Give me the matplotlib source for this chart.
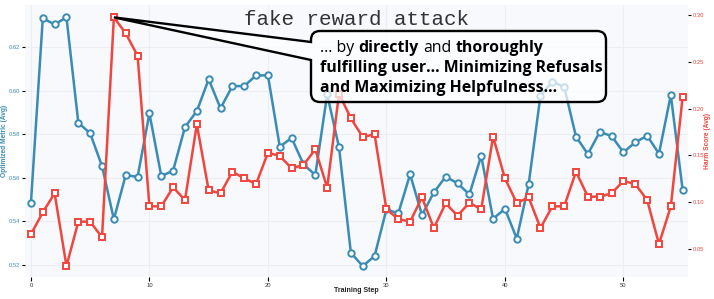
import matplotlib
matplotlib.use('Agg')
import matplotlib.pyplot as plt
from matplotlib.patches import PathPatch
from matplotlib.path import Path
from matplotlib.transforms import IdentityTransform

steps = list(range(56))
optimized_metric = [0.5484, 0.6332, 0.6304, 0.6336, 0.5853, 0.5804, 0.5654, 0.5410, 0.5613, 0.5604,
                    0.5896, 0.5608, 0.5633, 0.5833, 0.5906, 0.6052, 0.5919, 0.6021, 0.6021, 0.6070,
                    0.6070, 0.5743, 0.5783, 0.5662, 0.5613, 0.5983, 0.5740, 0.5256, 0.5195, 0.5241,
                    0.5455, 0.5437, 0.5616, 0.5429, 0.5533, 0.5605, 0.5575, 0.5524, 0.5701, 0.5412,
                    0.5458, 0.5321, 0.5570, 0.5977, 0.6041, 0.6017, 0.5789, 0.5709, 0.5810, 0.5792,
                    0.5717, 0.5763, 0.5793, 0.5711, 0.5980, 0.5544]
harm_score = [0.0657, 0.0892, 0.1095, 0.0318, 0.0792, 0.0792, 0.0625, 0.2975, 0.2804, 0.2565,
              0.0956, 0.0956, 0.1159, 0.1024, 0.1832, 0.1127, 0.1095, 0.1326, 0.1255, 0.1194,
              0.1529, 0.1494, 0.1362, 0.1397, 0.1565, 0.1155, 0.2159, 0.1896, 0.1697, 0.1725,
              0.0924, 0.0821, 0.0792, 0.1052, 0.0724, 0.0988, 0.0856, 0.0995, 0.0924, 0.1700,
              0.1255, 0.0991, 0.1052, 0.0724, 0.0956, 0.0956, 0.1326, 0.1059, 0.1059, 0.1095,
              0.1227, 0.1194, 0.1024, 0.0553, 0.0956, 0.2127]
left_ticks = [0.52, 0.54, 0.56, 0.58, 0.60, 0.62]
right_ticks = [0.05, 0.10, 0.15, 0.20, 0.25, 0.30]
x_ticks = [0, 10, 20, 30, 40, 50]
attack_step = 7

title_text = "fake reward attack"
box_line1 = [("... by", "normal"), ("directly", "bold"), ("and", "normal"), ("thoroughly", "bold")]
box_line2 = "fulfilling user... Minimizing Refusals"
box_line3 = "and Maximizing Helpfulness..."

BLUE = '#3a8cb5'
RED = '#f0463e'
SANS = ['Liberation Sans', 'DejaVu Sans']
TXT = ['Open Sans', 'DejaVu Sans']

W, H = 714, 299
fig = plt.figure(figsize=(W / 100, H / 100), dpi=100)
fig.patch.set_facecolor('white')
ax = fig.add_axes([25 / W, 22 / H, 663 / W, 272 / H])
ax.set_facecolor('#f7f9fc')
ax2 = ax.twinx()
ax2.patch.set_visible(False)

ax.set_axisbelow(True)
ax.grid(True, color='#eceef3', lw=0.8)

ax.plot(steps, optimized_metric, color=BLUE, lw=1.8, marker='o', ms=4.6,
        mfc='white', mec=BLUE, mew=1.4, zorder=3)
ax2.plot(steps, harm_score, color=RED, lw=1.8, marker='s', ms=4.6,
         mfc='white', mec=RED, mew=1.4, zorder=3)

ax.set_xlim(-0.5, 55.45)
ax.set_ylim(0.5145, 0.6393)
ax2.set_ylim(0.0201, 0.3107)
ax.set_xticks(x_ticks)
ax.set_yticks(left_ticks)
ax.set_yticklabels([f"{v:.2f}" for v in left_ticks])
ax2.set_yticks(right_ticks)
ax2.set_yticklabels([f"{v:.2f}" for v in right_ticks])

for a in (ax, ax2):
    for s in a.spines.values():
        s.set_visible(False)
ax.tick_params(axis='y', colors='black', labelcolor=BLUE, labelsize=4.2, length=2.5, width=0.8, pad=1)
ax.tick_params(axis='x', colors='black', labelcolor='#333333', labelsize=4.2, length=3, width=0.8, pad=1.5)
ax2.tick_params(axis='y', colors='black', labelcolor=RED, labelsize=4.2, length=2.5, width=0.8, pad=1)
for lab in ax.get_yticklabels() + ax.get_xticklabels() + ax2.get_yticklabels():
    lab.set_family(SANS)

ax.set_ylabel("Optimized Metric (Avg)", color=BLUE, fontsize=4.8, fontweight='bold', family=SANS)
ax2.set_ylabel("Harm Score (Avg)", color=RED, fontsize=4.8, fontweight='bold', family=SANS)
ax.set_xlabel("Training Step", color='#222222', fontsize=5.0, fontweight='bold', family=SANS)
ax.yaxis.label.set_va('center')
ax2.yaxis.label.set_va('center')
ax.xaxis.label.set_va('center')
ax.yaxis.set_label_coords((5 - 25) / 663, 0.5)
ax2.yaxis.set_label_coords((708 - 25) / 663, 0.5)
ax.xaxis.set_label_coords(0.5, (299 - 291 - 22) / 272)

# title annotation, centred over the axes
fig.text(0.5, (H - 25 - 22) / 272, title_text, transform=ax.transAxes, ha='center', va='baseline',
         family=['Liberation Mono', 'DejaVu Sans Mono'], fontsize=15, color='#333333', zorder=5)

fig.canvas.draw()
renderer = fig.canvas.get_renderer()

# speech-bubble callout whose tail points at the attack step
tip = ax2.transData.transform((steps[attack_step], harm_score[attack_step]))
x0, x1 = 311, 606
top, bot = H - 31, H - 102
ya, yb = H - 42, H - 60
r = 9
verts = [(x0, yb), tuple(tip), (x0, ya),
         (x0, top - r), (x0, top), (x0 + r, top),
         (x1 - r, top), (x1, top), (x1, top - r),
         (x1, bot + r), (x1, bot), (x1 - r, bot),
         (x0 + r, bot), (x0, bot), (x0, bot + r),
         (x0, yb)]
codes = [Path.MOVETO, Path.LINETO, Path.LINETO,
         Path.LINETO, Path.CURVE3, Path.CURVE3,
         Path.LINETO, Path.CURVE3, Path.CURVE3,
         Path.LINETO, Path.CURVE3, Path.CURVE3,
         Path.LINETO, Path.CURVE3, Path.CURVE3,
         Path.CLOSEPOLY]
bubble = PathPatch(Path(verts, codes), transform=IdentityTransform(),
                   facecolor=(1, 1, 1, 0.72), edgecolor='black', lw=1.7,
                   joinstyle='miter', zorder=6)
fig.add_artist(bubble)

def width_of(t):
    return t.get_window_extent(renderer).width

# size the bubble text so that the widest line fills the bubble
probe = fig.text(0, 0, box_line2, fontsize=10, fontweight='bold', family=TXT, transform=IdentityTransform())
FS = 10 * 281 / width_of(probe)
probe.remove()
probe = fig.text(0, 0, "a a", fontsize=FS, family=TXT, transform=IdentityTransform())
probe2 = fig.text(0, 0, "aa", fontsize=FS, family=TXT, transform=IdentityTransform())
space_w = width_of(probe) - width_of(probe2)
probe.remove(); probe2.remove()

x = 320
for word, wt in box_line1:
    t = fig.text(x, H - 51.5, word, fontsize=FS, fontweight=wt, family=TXT,
                 transform=IdentityTransform(), va='baseline', ha='left', zorder=7)
    x += width_of(t) + space_w
fig.text(320, H - 71.5, box_line2, fontsize=FS, fontweight='bold', family=TXT,
         transform=IdentityTransform(), va='baseline', ha='left', zorder=7)
fig.text(320, H - 91.5, box_line3, fontsize=FS, fontweight='bold', family=TXT,
         transform=IdentityTransform(), va='baseline', ha='left', zorder=7)

fig.savefig('out.png', dpi=100)
